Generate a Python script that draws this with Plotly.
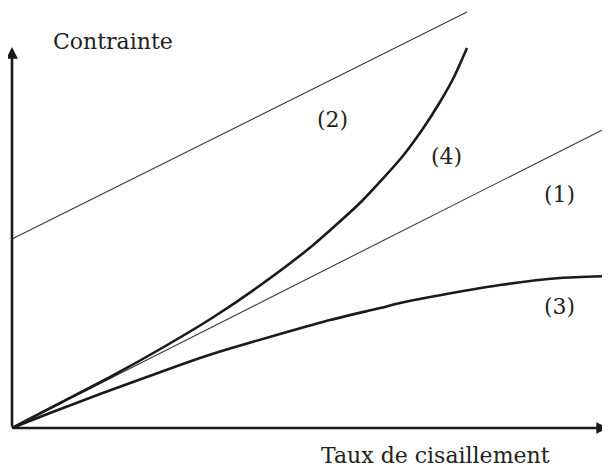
import plotly.graph_objects as go

# Data (arbitrary units, shear rate vs stress)
line1_x = [0, 598]
line1_y = [0, 302]

line2_x = [0, 455]
line2_y = [189, 416]

curve3_x = [0, 38, 88, 168, 188, 213, 268, 318, 368, 388, 418, 488, 548, 598]
curve3_y = [0, 15, 34, 63, 70, 78, 94, 108, 120, 125, 131, 143, 150, 152]

curve4_x = [0, 50, 100, 150, 200, 250, 300, 350, 390, 410, 428, 442, 455]
curve4_y = [0, 26, 52, 80, 110, 144, 182, 227, 271, 298, 326, 351, 380]

labels = ["(1)", "(2)", "(3)", "(4)"]
label_x = [547, 320, 547, 434]
label_y = [234, 309, 122, 272]

y_title = "Contrainte"
x_title = "Taux de cisaillement"

FONT = "DejaVu Serif"

fig = go.Figure()
thin = dict(color="#3a3a3a", width=1.1)
thick = dict(color="#1a1a1a", width=2.6, shape="spline", smoothing=0.6)

fig.add_trace(go.Scatter(x=line1_x, y=line1_y, mode="lines", line=thin, hoverinfo="skip"))
fig.add_trace(go.Scatter(x=line2_x, y=line2_y, mode="lines", line=thin, hoverinfo="skip"))
fig.add_trace(go.Scatter(x=curve3_x, y=curve3_y, mode="lines", line=thick, hoverinfo="skip"))
fig.add_trace(go.Scatter(x=curve4_x, y=curve4_y, mode="lines", line=thick, hoverinfo="skip"))

tfont = dict(family=FONT, size=22, color="#222")
anns = []
for t, lx, ly in zip(labels, label_x, label_y):
    anns.append(dict(x=lx, y=ly, xref="x", yref="y", text=t, showarrow=False, font=tfont))
anns.append(dict(x=101, y=387, xref="x", yref="y", text=y_title, showarrow=False, font=tfont))
anns.append(dict(x=423, y=-27, xref="x", yref="y", text=x_title, showarrow=False, font=tfont))
# axis arrows
anns.append(dict(x=0, y=381, ax=0, ay=0, xref="x", yref="y", axref="x", ayref="y",
                 text="", showarrow=True, arrowhead=2, arrowsize=0.9, arrowwidth=2.6,
                 arrowcolor="#1a1a1a", standoff=0))
anns.append(dict(x=596, y=0, ax=0, ay=0, xref="x", yref="y", axref="x", ayref="y",
                 text="", showarrow=True, arrowhead=2, arrowsize=0.9, arrowwidth=2.6,
                 arrowcolor="#1a1a1a", standoff=0))

fig.update_layout(
    width=602, height=460,
    margin=dict(l=0, r=0, t=0, b=0),
    paper_bgcolor="white", plot_bgcolor="white",
    showlegend=False,
    xaxis=dict(range=[-4, 598], visible=False, fixedrange=True),
    yaxis=dict(range=[-40, 420], visible=False, fixedrange=True),
    annotations=anns,
)

fig.write_html("out.html")
